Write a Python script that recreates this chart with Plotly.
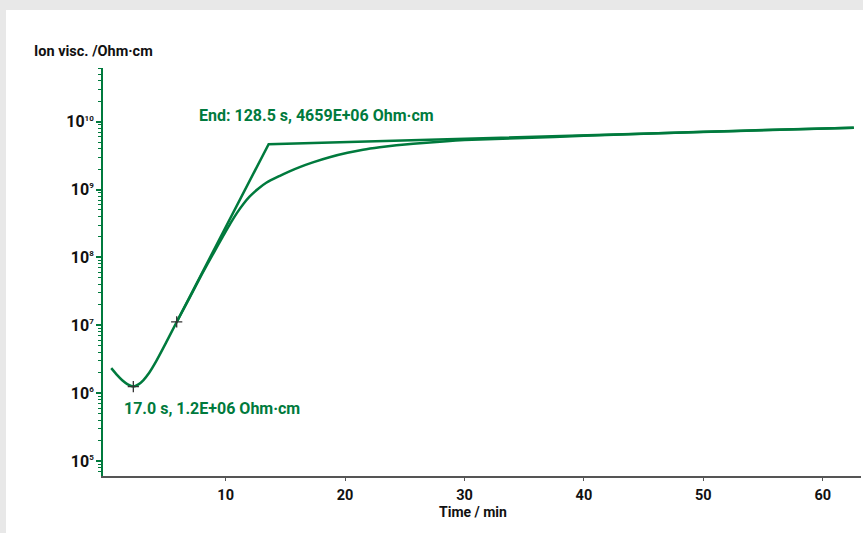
import plotly.graph_objects as go

# ---- data ----
time_min = [0.42, 0.9, 1.34, 1.8, 2.27, 2.7, 3.1, 3.6, 4.2, 5.0, 5.9, 7.0, 8.0, 9.0, 9.75,
            10.4, 10.95, 11.5, 12.0, 12.7, 13.4, 14.5, 15.3, 16.2, 17.3, 18.7, 20.2,
            21.5, 22.9, 24.3, 25.7, 28.5, 30.0, 35.0, 40.0, 45.0, 50.0, 55.0, 62.6]
ion_visc = [2.34e6, 1.86e6, 1.55e6, 1.35e6, 1.25e6, 1.35e6, 1.55e6, 2.0e6, 2.99e6, 5.5e6,
            1.12e7, 2.57e7, 5.62e7, 1.17e8, 2.0e8, 3.16e8, 4.52e8, 6.17e8, 7.85e8, 1.02e9,
            1.26e9, 1.58e9, 1.84e9, 2.14e9, 2.51e9, 2.99e9, 3.47e9, 3.85e9, 4.19e9,
            4.49e9, 4.74e9, 5.15e9, 5.35e9, 5.75e9, 6.17e9, 6.61e9, 7.08e9, 7.5e9, 8.13e9]
tangent_t = [5.9, 13.6, 62.6]
tangent_v = [1.12e7, 4.659e9, 8.13e9]
marker_t = [2.27, 5.9]
marker_v = [1.25e6, 1.12e7]
x_ticks = [10, 20, 30, 40, 50, 60]
y_ticks = [1e5, 1e6, 1e7, 1e8, 1e9, 1e10]
y_exponents = ["5", "6", "7", "8", "9", "10"]

GREEN = "#007a3d"
FONT = "Roboto"

fig = go.Figure()
fig.add_trace(go.Scatter(x=time_min, y=ion_visc, mode="lines",
                         line=dict(color=GREEN, width=2.5, shape="spline", smoothing=0.5),
                         hoverinfo="skip"))
fig.add_trace(go.Scatter(x=tangent_t, y=tangent_v, mode="lines",
                         line=dict(color=GREEN, width=2.5), hoverinfo="skip"))
fig.add_trace(go.Scatter(x=marker_t, y=marker_v, mode="markers",
                         marker=dict(symbol="cross-thin", size=8,
                                     line=dict(color="#333333", width=1.3)),
                         hoverinfo="skip"))

W, H = 863, 533
L, R, T, B = 103, 2, 68, 57
pw, ph = W - L - R, H - T - B

def px(xp):
    return (xp - L) / pw

def py(yp):
    return (H - B - yp) / ph

fig.add_shape(type="rect", xref="paper", yref="paper",
              x0=px(6), x1=px(W + 5), y0=py(H + 5), y1=py(10),
              fillcolor="white", line=dict(width=0), layer="below")

fig.add_annotation(text="<b>Ion visc. /Ohm·cm</b>", xref="paper", yref="paper",
                   x=px(32), y=py(52), xanchor="left", yanchor="middle",
                   showarrow=False, font=dict(family=FONT, size=14.5, color="#111111"))
fig.add_annotation(text="<b>End: 128.5 s, 4659E+06 Ohm·cm</b>", xref="paper", yref="paper",
                   x=px(197), y=py(115), xanchor="left", yanchor="middle",
                   showarrow=False, font=dict(family=FONT, size=16, color=GREEN))
fig.add_annotation(text="<b>17.0 s, 1.2E+06 Ohm·cm</b>", xref="paper", yref="paper",
                   x=px(122), y=py(408), xanchor="left", yanchor="middle",
                   showarrow=False, font=dict(family=FONT, size=16, color=GREEN))
fig.add_annotation(text="<b>Time / min</b>", xref="paper", yref="paper",
                   x=px(473), y=py(512), xanchor="center", yanchor="middle",
                   showarrow=False, font=dict(family=FONT, size=14, color="#111111"))

fig.update_layout(
    width=W, height=H,
    margin=dict(l=L, r=R, t=T, b=B),
    paper_bgcolor="#e8e8e8", plot_bgcolor="white",
    showlegend=False,
    font=dict(family=FONT, color="#111111"),
    xaxis=dict(range=[-0.27, 63.2], tickvals=x_ticks,
               ticktext=[f"<b>{v}</b>" for v in x_ticks],
               showgrid=False, zeroline=False,
               showline=True, linecolor="#555555", linewidth=2,
               ticks="outside", ticklen=3, tickcolor="#555555", tickwidth=1,
               ticklabelstandoff=2,
               tickfont=dict(size=14.5, color="#111111")),
    yaxis=dict(type="log", range=[4.78, 10.79], tickvals=y_ticks,
               ticktext=[f"<b>10</b><sup><span style='font-size:8px'><b>{e}</b></span></sup>"
                         for e in y_exponents],
               showgrid=False, zeroline=False,
               showline=True, linecolor=GREEN, linewidth=2,
               ticks="outside", ticklen=5, tickcolor=GREEN, tickwidth=2,
               ticklabelstandoff=-1,
               tickfont=dict(size=16, color="#111111"),
               minor=dict(ticks="outside", ticklen=3, tickcolor=GREEN, tickwidth=1,
                          dtick="D1", showgrid=False)),
)

fig.write_html("out.html")
